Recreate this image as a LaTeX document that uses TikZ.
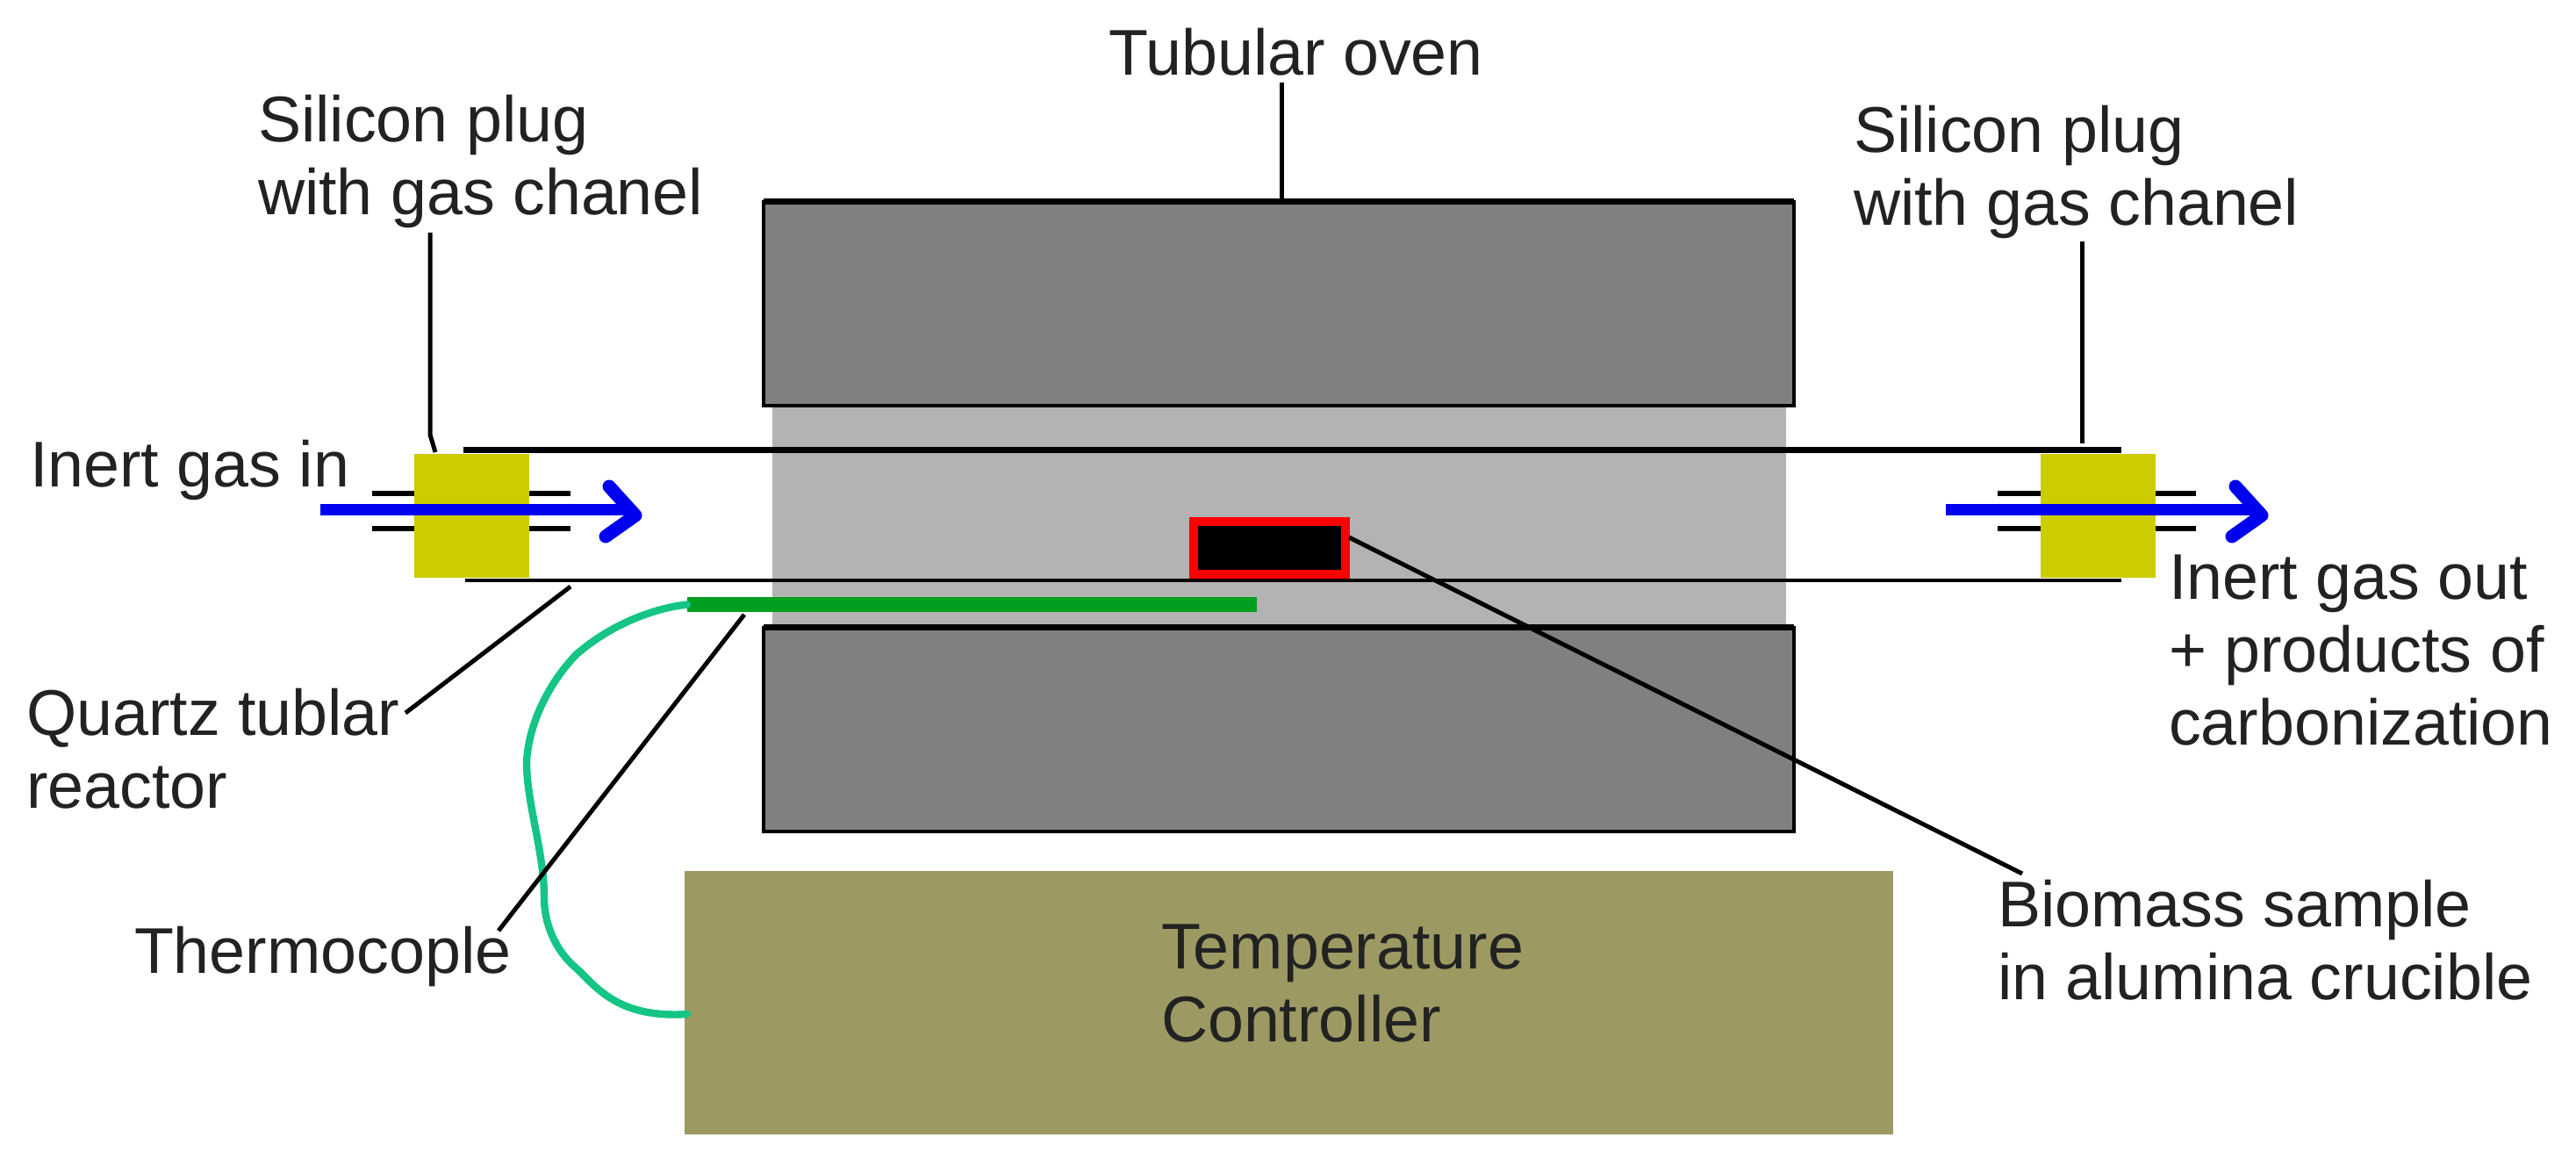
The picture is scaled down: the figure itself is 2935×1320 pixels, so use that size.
\documentclass[tikz,border=0pt]{standalone}
\usepackage{fontspec}
\setmainfont{Liberation Sans}
\begin{document}
\begin{tikzpicture}[x=0.5pt,y=-0.5pt,
  box/.style={rectangle,inner sep=0pt,outer sep=0pt,anchor=north west},
  ovenbox/.style={box,fill=ovengray,draw=black,line width=2.2pt,minimum width=1174*0.5pt,minimum height=1pt},
  ovenedge/.style={draw=black,line width=3.5pt},
  plugbox/.style={box,fill=plugyellow,minimum width=131*0.5pt,minimum height=141*0.5pt},
  lab/.style={inner sep=0pt,outer sep=0pt,anchor=base west,align=left,text=labeltext,font=\fontsize{36.8}{41.5}\selectfont},
  leader/.style={draw=black,line width=2.5pt},
  tube/.style={draw=black},
  port/.style={draw=black,line width=3pt},
  flow/.style={draw=flowblue,line width=6.5pt},
  flowhead/.style={draw=flowblue,line width=7.5pt,line join=round,line cap=round},
  wire/.style={draw=wiregreen,line width=4.2pt,line cap=round,line join=round}
]
\definecolor{ovengray}{HTML}{808080}
\definecolor{heatgray}{HTML}{B3B3B3}
\definecolor{plugyellow}{HTML}{CCCC00}
\definecolor{ctrlolive}{HTML}{9C9A62}
\definecolor{labeltext}{HTML}{222222}
\definecolor{flowblue}{HTML}{0000F0}
\definecolor{wiregreen}{HTML}{14C585}
\definecolor{probegreen}{HTML}{009F20}
\useasboundingbox (0,0) rectangle (2935,1320);
\fill[white] (0,0) rectangle (2935,1320);
% heated zone
\node[box,fill=heatgray,minimum width=1155*0.5pt,minimum height=253*0.5pt] (heat) at (880,460) {};
% reactor tube
\coordinate (tubeTL) at (528,513);
\coordinate (tubeTR) at (2417,513);
\coordinate (tubeBL) at (530,661);
\coordinate (tubeBR) at (2417,661);
\draw[tube,line width=3.5pt] (tubeTL) -- (tubeTR);
\draw[tube,line width=2.4pt] (tubeBL) -- (tubeBR);
% oven
\node[ovenbox,minimum height=232*0.5pt] (ovenT) at (870,230) {};
\node[ovenbox,minimum height=232*0.5pt] (ovenB) at (870,715) {};
\draw[ovenedge] (ovenT.north west) -- (ovenT.north east);
\draw[ovenedge] (ovenB.north west) -- (ovenB.north east);
% controller
\node[box,fill=ctrlolive,minimum width=1377*0.5pt,minimum height=300*0.5pt] (ctrl) at (780,992) {};
% crucible
\node[box,fill=black,draw=red,line width=5pt,minimum width=173*0.5pt,minimum height=60*0.5pt] (crucible) at (1360,594) {};
% plugs and their channels
\node[plugbox] (plugL) at (472,517) {};
\node[plugbox] (plugR) at (2325,517) {};
\draw[port] (424,562) -- (plugL.west |- 0,562);
\draw[port] (424,602) -- (plugL.west |- 0,602);
\draw[port] (plugL.east |- 0,562) -- (650,562);
\draw[port] (plugL.east |- 0,602) -- (650,602);
\draw[port] (2276,562) -- (plugR.west |- 0,562);
\draw[port] (2276,602) -- (plugR.west |- 0,602);
\draw[port] (plugR.east |- 0,562) -- (2502,562);
\draw[port] (plugR.east |- 0,602) -- (2502,602);
% gas flow
\coordinate (inTail) at (365,581);
\coordinate (inTip) at (716,581);
\coordinate (outTail) at (2217,581);
\coordinate (outTip) at (2570,581);
\draw[flow] (inTail) -- (inTip);
\draw[flowhead] (694,554) -- (724,587) -- (690,611);
\draw[flow] (outTail) -- (outTip);
\draw[flowhead] (2547,554) -- (2577,587) -- (2543,611);
% thermocouple
\node[box,fill=probegreen,minimum width=649*0.5pt,minimum height=17*0.5pt] (probe) at (783,680) {};
\draw[wire] (probe.west) .. controls (750,692) and (700,708) .. (657,745)
  .. controls (625,778) and (602,825) .. (600,868)
  .. controls (600,915) and (620,970) .. (620,1022)
  .. controls (620,1055) and (635,1085) .. (657,1103)
  .. controls (680,1125) and (705,1160) .. (783,1155);
% labels
\node[lab] (ovenLab) at (1263,86) {Tubular oven};
\node[lab] (plugLabL) at (294,245) {Silicon plug\\with gas chanel};
\node[lab] (plugLabR) at (2112,257) {Silicon plug\\with gas chanel};
\node[lab] (inLab) at (34,555) {Inert gas in};
\node[lab] (outLab) at (2471,848) {Inert gas out\\+ products of\\carbonization};
\node[lab] (quartzLab) at (30,920) {Quartz tublar\\reactor};
\node[lab] (thermoLab) at (153,1108) {Thermocople};
\node[lab] (biomassLab) at (2276,1138) {Biomass sample\\in alumina crucible};
\node[lab] (ctrlLab) at (1323,1186) {Temperature\\Controller};
% leaders
\coordinate (ovenEnd) at (1460,94);
\coordinate (plugLTop) at (490,265);
\coordinate (plugLBend) at (490,495);
\coordinate (plugLEnd) at (496,515);
\coordinate (plugRTop) at (2372,275);
\coordinate (plugREnd) at (2372,505);
\coordinate (quartzA) at (650,668);
\coordinate (quartzB) at (462,812);
\coordinate (thermoA) at (848,700);
\coordinate (thermoB) at (568,1060);
\coordinate (cruA) at (1537,612);
\coordinate (cruB) at (2304,995);
\draw[leader] (ovenEnd) -- (ovenT.north -| ovenEnd);
\draw[leader] (plugLTop) -- (plugLBend) -- (plugLEnd);
\draw[leader] (plugRTop) -- (plugREnd);
\draw[leader] (quartzA) -- (quartzB);
\draw[leader] (thermoA) -- (thermoB);
\draw[leader] (cruA) -- (cruB);
\end{tikzpicture}
\end{document}
